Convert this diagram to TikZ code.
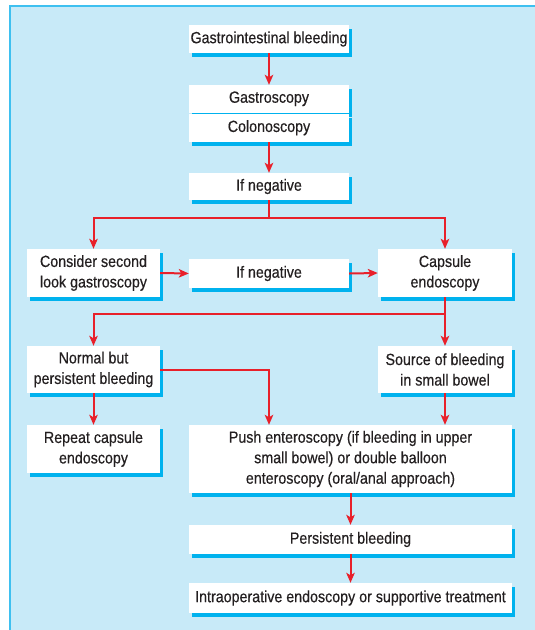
\documentclass[tikz,border=0pt]{standalone}
\usepackage{fontspec}
\setmainfont{Liberation Sans}[FakeStretch=0.88,FakeBold=0.4]
\usetikzlibrary{arrows.meta,shadows,calc}
\definecolor{panelc}{HTML}{C8EAF8}
\definecolor{borderc}{HTML}{3EC0F0}
\definecolor{shadowc}{HTML}{00B2EE}
\definecolor{arrowc}{HTML}{E8202A}
\definecolor{textc}{HTML}{231F20}
\tikzset{
  box/.style={fill=white, inner sep=0pt, align=center, text=textc,
    font=\fontsize{16.2}{20.5}\selectfont,
    drop shadow={shadow xshift=3pt, shadow yshift=-4pt, fill=shadowc, opacity=1}},
  arr/.style={draw=arrowc, line width=2pt, -{Stealth[length=10pt,width=8.5pt,inset=2.5pt]}},
  ln/.style={draw=arrowc, line width=2pt}
}
\begin{document}
\begin{tikzpicture}[x=1pt,y=-1pt]
\useasboundingbox (0,0) rectangle (535,630);
\fill[white] (0,0) rectangle (535,630);
\fill[panelc] (9,5) rectangle (535,630);
\draw[borderc, line width=2pt] (10,630) -- (10,6) -- (535,6);

\node[box, minimum width=160pt, minimum height=28pt] (gi) at (269,39) {Gastrointestinal bleeding};
\node[box, minimum width=160pt, minimum height=27.5pt] (gas) at (269,98.75) {Gastroscopy};
\node[box, minimum width=160pt, minimum height=28.5pt] (col) at (269,127.75) {Colonoscopy};
\node[box, minimum width=160pt, minimum height=27pt] (neg1) at (269,186.5) {If negative};
\node[box, minimum width=133pt, minimum height=48pt] (cons) at (93.5,273) {Consider second\\look gastroscopy};
\node[box, minimum width=160pt, minimum height=29pt] (neg2) at (269,273.5) {If negative};
\node[box, minimum width=134pt, minimum height=48pt] (caps) at (445,273) {Capsule\\endoscopy};
\node[box, minimum width=133pt, minimum height=47pt] (norm) at (93.5,369.5) {Normal but\\persistent bleeding};
\node[box, minimum width=134pt, minimum height=47pt] (src) at (445,369.5) {Source of bleeding\\in small bowel};
\node[box, minimum width=133pt, minimum height=48pt] (rep) at (93.5,449) {Repeat capsule\\endoscopy};
\node[box, minimum width=323pt, minimum height=68pt] (push) at (350.5,459) {Push enteroscopy (if bleeding in upper\\small bowel) or double balloon\\enteroscopy (oral/anal approach)};
\node[box, minimum width=323pt, minimum height=29pt] (pers) at (350.5,539.5) {Persistent bleeding};
\node[box, minimum width=323pt, minimum height=30pt] (intra) at (350.5,598) {Intraoperative endoscopy or supportive treatment};

\coordinate (s1) at (269,218);
\coordinate (s2) at (445,314);

\draw[arr] (gi.south) -- (gas.north);
\draw[arr] (col.south) -- (neg1.north);
\draw[ln] (neg1.south) -- (s1);
\draw[arr] (s1) -| (cons.north);
\draw[arr] (s1) -| (caps.north);
\draw[arr] (cons.east) -- (neg2.west);
\draw[arr] (neg2.east) -- (caps.west);
\draw[ln] (caps.south) -- (s2);
\draw[arr] (s2) -| (norm.north);
\draw[arr] (s2) -- (src.north);
\draw[arr] (norm.south) -- (rep.north);
\draw[arr] (norm.east) -| (gi.south |- push.north);
\draw[arr] (src.south) -- (src.south |- push.north);
\draw[arr] (push.south) -- (pers.north);
\draw[arr] (pers.south) -- (intra.north);
\end{tikzpicture}
\end{document}
